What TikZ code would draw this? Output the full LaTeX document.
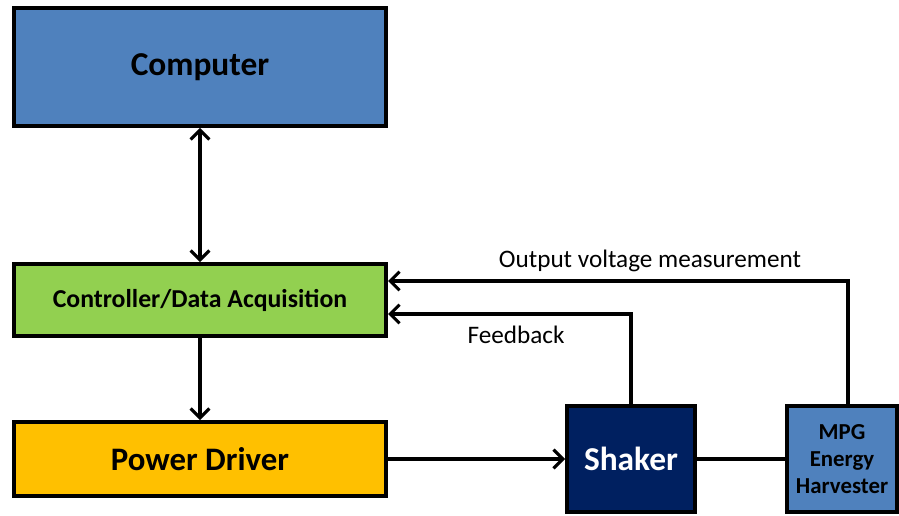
\documentclass[tikz,border=0pt]{standalone}
\usepackage{fontspec}
\setmainfont{Carlito}
\usetikzlibrary{arrows.meta}
\definecolor{compblue}{HTML}{4F81BD}
\definecolor{ctrlgreen}{HTML}{92D050}
\definecolor{drvorange}{HTML}{FFC000}
\definecolor{shknavy}{HTML}{002060}
\begin{document}
\begin{tikzpicture}[x=0.03cm,y=-0.03cm,
		blockbox/.style={draw=black,line width=3.4pt,inner sep=0pt,align=center,font=\bfseries},
		link/.style={black,line width=2.6pt},
		tip/.style={-{Straight Barb[length=8pt,width=16pt]}}]
		\useasboundingbox (0,0) rectangle (899,516);% Keeps the margins of the page

		\node[blockbox,fill=compblue,minimum width=11.16cm,minimum height=3.54cm,font=\bfseries\fontsize{28.5}{32}\selectfont] (comp) at (200,67) {Computer};
		\node[blockbox,fill=ctrlgreen,minimum width=11.16cm,minimum height=2.16cm,font=\bfseries\fontsize{22}{26}\selectfont] (ctrl) at (200,300) {Controller/Data Acquisition};
		\node[blockbox,fill=drvorange,minimum width=11.16cm,minimum height=2.22cm,font=\bfseries\fontsize{28}{32}\selectfont] (drv) at (200,459) {Power Driver};
		\node[blockbox,fill=shknavy,text=white,minimum width=3.84cm,minimum height=3.18cm,font=\bfseries\fontsize{28.5}{32}\selectfont] (shk) at (631,459) {Shaker};
		\node[blockbox,fill=compblue,minimum width=3.30cm,minimum height=3.18cm,font=\bfseries\fontsize{19.5}{23}\selectfont] (mpg) at (842,459) {MPG\\Energy\\Harvester};

		\coordinate (fbturn)  at (631,314);% Corner of the feedback line
		\coordinate (outturn) at (848,281);% Corner of the measurement line

		\draw[link,{Straight Barb[length=8pt,width=16pt]}-{Straight Barb[length=8pt,width=16pt]}] (comp.south) -- (ctrl.north);
		\draw[link,tip] (ctrl.south) -- (drv.north);
		\draw[link,tip] (drv.east) -- (shk.west);
		\draw[link] (shk.east) -- (mpg.west);
		\draw[link,tip] (shk.north) -- (fbturn) -- (fbturn -| ctrl.east);
		\draw[link,tip] (outturn |- mpg.north) -- (outturn) -- (outturn -| ctrl.east);

		\node[font=\fontsize{21.5}{25}\selectfont] (outlabel) at (650,261) {Output voltage measurement};
		\node[font=\fontsize{21.5}{25}\selectfont] (fblabel) at (516,335) {Feedback};
	  \end{tikzpicture}
\end{document}
